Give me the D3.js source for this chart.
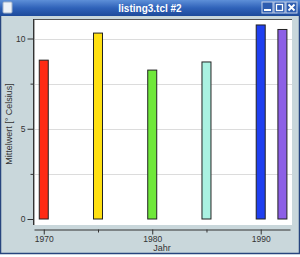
<!DOCTYPE html>
<html><head><meta charset="utf-8">
<script src="https://cdn.jsdelivr.net/npm/d3@7"></script>
<style>html,body{margin:0;padding:0;background:#fff;overflow:hidden}</style>
</head><body>
<script>
const years = [1970, 1975, 1980, 1985, 1990, 1992];
const values = [8.8, 10.3, 8.25, 8.7, 10.75, 10.5];
const barColors = ["#ff2b14", "#ffe012", "#6fe83a", "#aaf2e2", "#1f3ff0", "#8c5fe6"];
const yTicks = [0, 5, 10];
const yMinor = [2.5, 7.5];
const xTicks = [1970, 1980, 1990];
const xMinor = [1975, 1985];
const title = "listing3.tcl #2";
const xTitle = "Jahr";
const yTitle = "Mittelwert [° Celsius]";

const W = 300, H = 257;
const svg = d3.select("body").append("svg").attr("width", W).attr("height", H);
const font = "Liberation Sans, Arial, sans-serif";

// window frame
svg.append("rect").attr("x", 0.5).attr("y", 0.5).attr("width", W - 1).attr("height", 253)
  .attr("fill", "#c9d7db").attr("stroke", "#27457e").attr("stroke-width", 1.5);
const grad = svg.append("defs").append("linearGradient").attr("id", "tb").attr("x1", 0).attr("x2", 0).attr("y1", 0).attr("y2", 1);
grad.append("stop").attr("offset", 0).attr("stop-color", "#5d8fd8");
grad.append("stop").attr("offset", 0.5).attr("stop-color", "#2f62b9");
grad.append("stop").attr("offset", 1).attr("stop-color", "#1d4a9a");
svg.append("rect").attr("x", 0).attr("y", 0).attr("width", W).attr("height", 16).attr("fill", "url(#tb)");
svg.append("rect").attr("x", 3).attr("y", 2).attr("width", 9).attr("height", 11).attr("fill", "#eef2f8").attr("stroke", "#9fb0c8").attr("rx", 1);
svg.append("text").attr("x", 150).attr("y", 12).attr("text-anchor", "middle")
  .attr("font-family", font).attr("font-weight", "bold").attr("font-size", 10).attr("fill", "#fff").text(title);
// buttons
[262, 274, 286].forEach((bx, i) => {
  const g = svg.append("g");
  g.append("rect").attr("x", bx).attr("y", 2).attr("width", 11).attr("height", 11).attr("fill", "#2d5cb0").attr("stroke", "#c8d4ea");
  if (i === 0) g.append("rect").attr("x", bx + 2).attr("y", 9).attr("width", 7).attr("height", 2).attr("fill", "#fff");
  if (i === 1) g.append("rect").attr("x", bx + 2.5).attr("y", 4.5).attr("width", 6).attr("height", 6).attr("fill", "none").attr("stroke", "#fff").attr("stroke-width", 1.3);
  if (i === 2) g.append("path").attr("d", `M${bx+2.5},4.5L${bx+8.5},10.5M${bx+8.5},4.5L${bx+2.5},10.5`).attr("stroke", "#fff").attr("stroke-width", 1.8);
});

// plot area
const px0 = 34, px1 = 292, py0 = 19, py1 = 225;
svg.append("rect").attr("x", px0).attr("y", py0).attr("width", px1 - px0).attr("height", py1 - py0).attr("fill", "#fff");
svg.append("path").attr("d", `M${px0},${py1}V${py0 + 0.5}H${px1}`).attr("fill", "none").attr("stroke", "#555").attr("stroke-width", 1);

const x = d3.scaleLinear().domain([1969.1, 1992.7]).range([34, 290]);
const y = d3.scaleLinear().domain([0, 10]).range([219, 38.5]);

// gridlines
svg.append("g").selectAll("line").data(yTicks.concat(yMinor).filter(d => d > 0)).join("line")
  .attr("x1", px0 + 1).attr("x2", px1).attr("y1", d => Math.round(y(d)) + 0.5).attr("y2", d => Math.round(y(d)) + 0.5)
  .attr("stroke", "#dcdcdc").attr("stroke-width", 1);

// bars
const bw = 9;
svg.append("g").selectAll("rect").data(years).join("rect")
  .attr("x", d => x(d) - bw / 2).attr("width", bw)
  .attr("y", (d, i) => y(values[i])).attr("height", (d, i) => y(0) - y(values[i]))
  .attr("fill", (d, i) => barColors[i]).attr("stroke", "#222").attr("stroke-width", 1);

// y axis
const yAxisG = svg.append("g").attr("transform", "translate(33.5,0)")
  .call(d3.axisLeft(y).tickValues(yTicks).tickSize(6).tickSizeOuter(0).tickPadding(2));
svg.append("g").attr("transform", "translate(33.5,0)")
  .call(d3.axisLeft(y).tickValues(yMinor).tickSize(3).tickSizeOuter(0).tickFormat(""))
  .select(".domain").remove();
yAxisG.select(".domain").attr("d", `M0,${py0}V${py1}`);

// x axis
const xAxisG = svg.append("g").attr("transform", "translate(0,229.5)")
  .call(d3.axisBottom(x).tickValues(xTicks).tickFormat(d3.format("d")).tickSize(5).tickSizeOuter(0).tickPadding(1));
svg.append("g").attr("transform", "translate(0,229.5)")
  .call(d3.axisBottom(x).tickValues(xMinor).tickSize(3).tickSizeOuter(0).tickFormat(""))
  .select(".domain").remove();

svg.selectAll(".tick text").attr("font-family", font).attr("font-size", 8.5).attr("fill", "#333");
svg.selectAll(".domain, .tick line").attr("stroke", "#333");

svg.append("text").attr("x", 162).attr("y", 251).attr("text-anchor", "middle")
  .attr("font-family", font).attr("font-size", 9).attr("fill", "#333").text(xTitle);
svg.append("text").attr("transform", "translate(12,124) rotate(-90)").attr("text-anchor", "middle")
  .attr("font-family", font).attr("font-size", 9).attr("fill", "#333").text(yTitle);
</script>
</body></html>
